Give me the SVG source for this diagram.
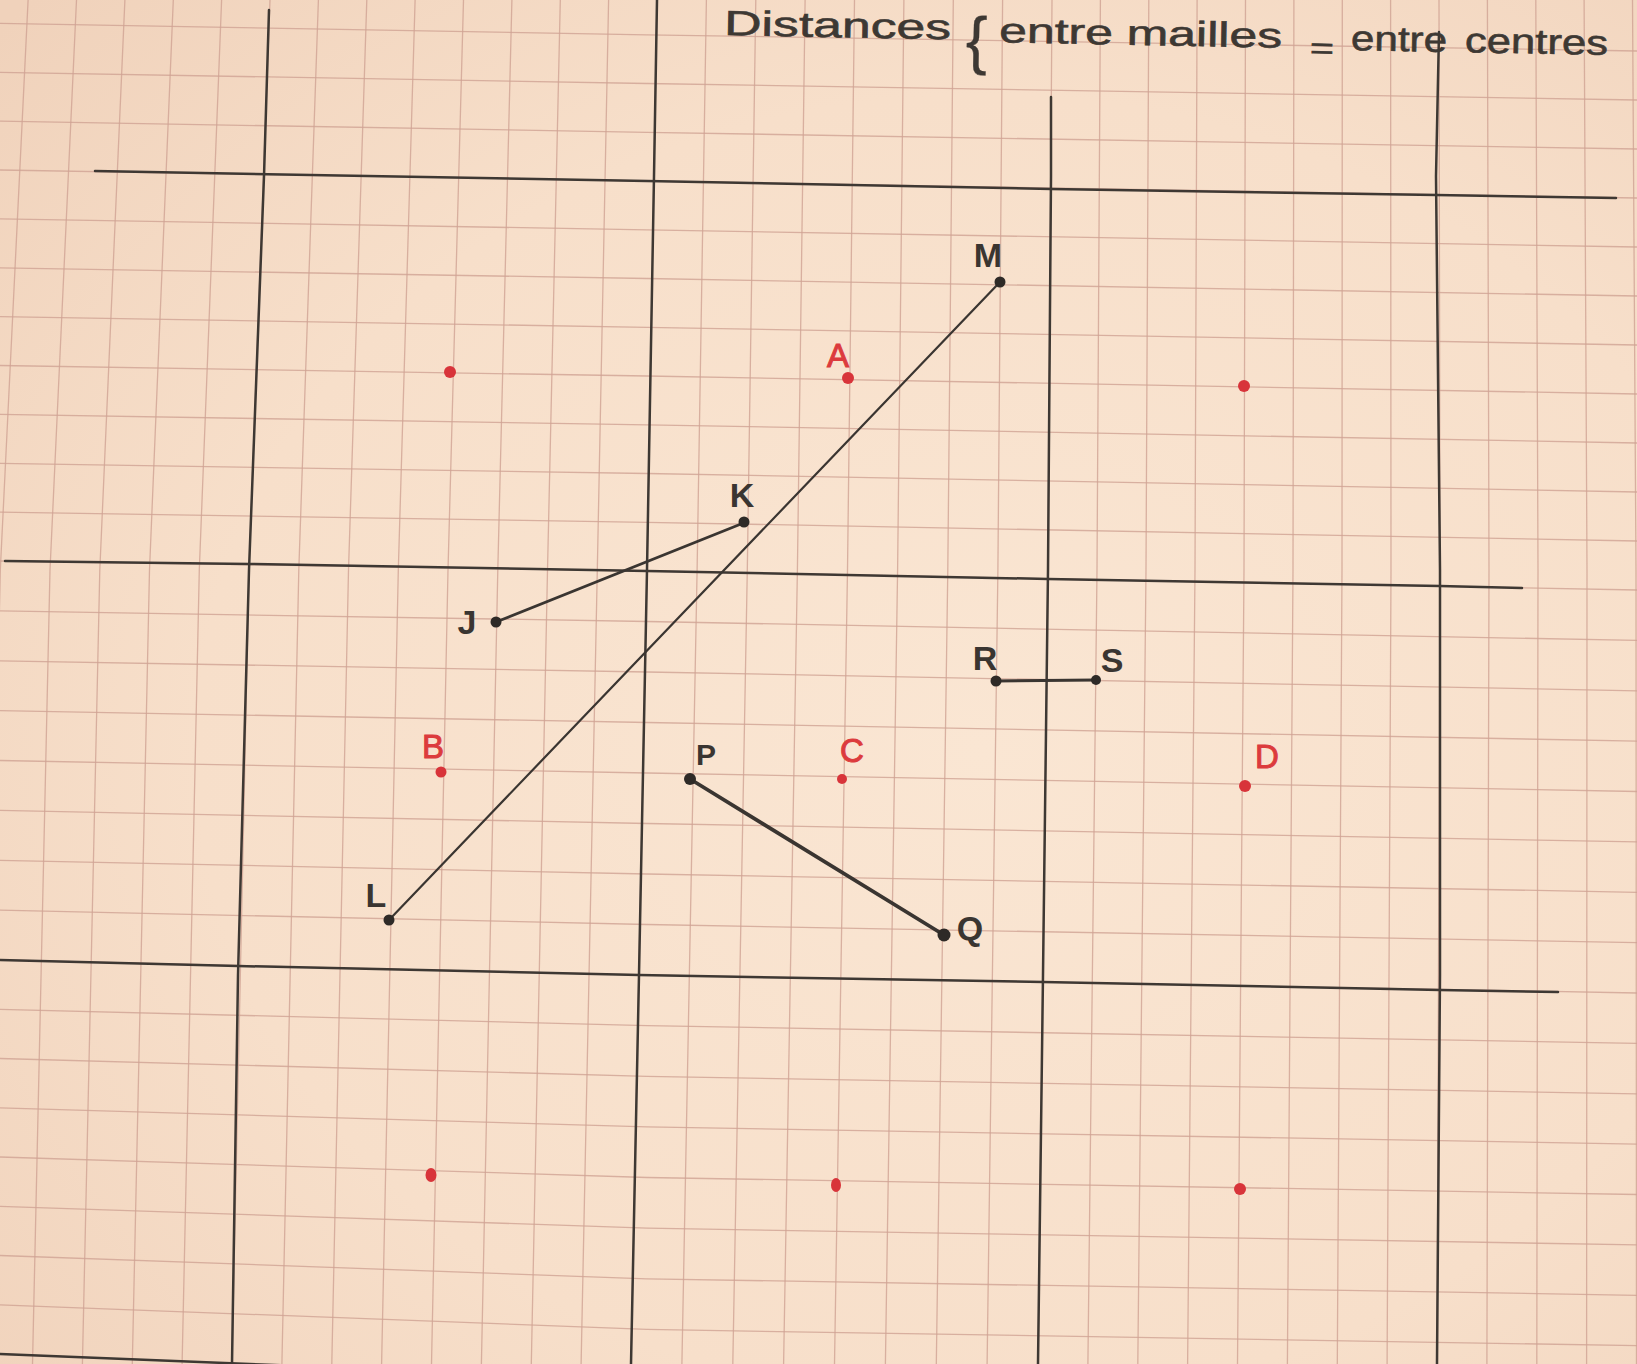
<svg xmlns="http://www.w3.org/2000/svg" width="1637" height="1364" viewBox="0 0 1637 1364">
<defs>
<style>
.minor{stroke:#cfa393;stroke-width:1.3;fill:none;opacity:.8}
.major{stroke:#3e3833;stroke-width:2.5;fill:none;stroke-linecap:round;stroke-linejoin:round}
.seg{stroke:#3a3531;stroke-linecap:round}
.dot{fill:#2e2a27}
.rdot{fill:#d8343a}
.lbl{font-family:"Liberation Sans",Arial,sans-serif;font-size:34px;font-weight:bold;fill:#3a3531;text-anchor:middle}
.rlbl{font-family:"Liberation Sans",Arial,sans-serif;font-size:33px;fill:#dc3b3d;text-anchor:middle;stroke:#dc3b3d;stroke-width:1}
.title{font-family:"Liberation Sans",Arial,sans-serif;font-size:35px;fill:#3d3833;stroke:#3d3833;stroke-width:0.6}
</style>
<radialGradient id="paper" cx="0.6" cy="0.55" r="0.8">
<stop offset="0" stop-color="#fae6d3"/>
<stop offset="0.6" stop-color="#f7dfca"/>
<stop offset="1" stop-color="#f0d2bb"/>
</radialGradient>
</defs>
<rect x="0" y="0" width="1637" height="1364" fill="url(#paper)"/>

<g id="minor-grid">
<polyline class="minor" points="0,23.4 647,34.8 1637,51"/>
<polyline class="minor" points="0,72.3 647,83.5 1637,100"/>
<polyline class="minor" points="0,121.1 647,132.3 1637,149"/>
<polyline class="minor" points="0,170 647,181 1637,198"/>
<polyline class="minor" points="0,218.9 647,229.8 1637,247"/>
<polyline class="minor" points="0,267.8 647,278.5 1637,296"/>
<polyline class="minor" points="0,316.6 647,327.3 1637,345"/>
<polyline class="minor" points="0,365.5 647,376 1637,394"/>
<polyline class="minor" points="0,414.4 647,424.8 1637,443"/>
<polyline class="minor" points="0,463.3 647,473.5 1637,492"/>
<polyline class="minor" points="0,512.1 647,522.3 1637,541"/>
<polyline class="minor" points="0,561 647,571 1637,590"/>
<polyline class="minor" points="0,610.9 647,621.5 1637,640.4"/>
<polyline class="minor" points="0,660.8 647,672 1637,690.8"/>
<polyline class="minor" points="0,710.6 647,722.5 1637,741.1"/>
<polyline class="minor" points="0,760.5 647,773 1637,791.5"/>
<polyline class="minor" points="0,810.4 647,823.5 1637,841.9"/>
<polyline class="minor" points="0,860.3 647,874 1637,892.3"/>
<polyline class="minor" points="0,910.1 647,924.5 1637,942.6"/>
<polyline class="minor" points="0,960 647,975 1637,993"/>
<polyline class="minor" points="0,1009.3 647,1025.6 1637,1043.4"/>
<polyline class="minor" points="0,1058.5 647,1076.3 1637,1093.8"/>
<polyline class="minor" points="0,1107.8 647,1126.9 1637,1144.1"/>
<polyline class="minor" points="0,1157 647,1177.5 1637,1194.5"/>
<polyline class="minor" points="0,1206.3 647,1228.1 1637,1244.9"/>
<polyline class="minor" points="0,1255.5 647,1278.8 1637,1295.3"/>
<polyline class="minor" points="0,1304.8 647,1329.4 1637,1345.6"/>
<polyline class="minor" points="0,1354 647,1380 1637,1396"/>

<polyline class="minor" points="28.1,0 0.3,570 -17.4,1364"/>
<polyline class="minor" points="76.5,0 50,570 32.5,1364"/>
<polyline class="minor" points="124.9,0 99.8,570 82.4,1364"/>
<polyline class="minor" points="173.3,0 149.5,570 132.3,1364"/>
<polyline class="minor" points="221.6,0 199.3,570 182.1,1364"/>
<polyline class="minor" points="270,0 249,570 232,1364"/>
<polyline class="minor" points="318.4,0 298.8,570 281.9,1364"/>
<polyline class="minor" points="366.8,0 348.5,570 331.8,1364"/>
<polyline class="minor" points="415.1,0 398.3,570 381.6,1364"/>
<polyline class="minor" points="463.5,0 448,570 431.5,1364"/>
<polyline class="minor" points="511.9,0 497.8,570 481.4,1364"/>
<polyline class="minor" points="560.3,0 547.5,570 531.3,1364"/>
<polyline class="minor" points="608.6,0 597.3,570 581.1,1364"/>
<polyline class="minor" points="657,0 647,570 631,1364"/>
<polyline class="minor" points="706.4,0 697.1,570 681.9,1364"/>
<polyline class="minor" points="755.8,0 747.3,570 732.8,1364"/>
<polyline class="minor" points="805.1,0 797.4,570 783.6,1364"/>
<polyline class="minor" points="854.5,0 847.5,570 834.5,1364"/>
<polyline class="minor" points="903.9,0 897.6,570 885.4,1364"/>
<polyline class="minor" points="953.3,0 947.8,570 936.3,1364"/>
<polyline class="minor" points="1002.6,0 997.9,570 987.1,1364"/>
<polyline class="minor" points="1052,0 1048,570 1038,1364"/>
<polyline class="minor" points="1100.4,0 1097,570 1087.9,1364"/>
<polyline class="minor" points="1148.8,0 1146,570 1137.8,1364"/>
<polyline class="minor" points="1197.1,0 1195,570 1187.6,1364"/>
<polyline class="minor" points="1245.5,0 1244,570 1237.5,1364"/>
<polyline class="minor" points="1293.9,0 1293,570 1287.4,1364"/>
<polyline class="minor" points="1342.3,0 1342,570 1337.3,1364"/>
<polyline class="minor" points="1390.6,0 1391,570 1387.1,1364"/>
<polyline class="minor" points="1439,0 1440,570 1437,1364"/>
<polyline class="minor" points="1487.4,0 1489,570 1486.9,1364"/>
<polyline class="minor" points="1535.8,0 1538,570 1536.8,1364"/>
<polyline class="minor" points="1584.1,0 1587,570 1586.6,1364"/>
<polyline class="minor" points="1632.5,0 1636,570 1636.5,1364"/>
</g>

<g id="major-grid">
<polyline class="major" points="269,10 264,176 249,570 238,975 232,1364"/>
<polyline class="major" points="657,0 654,176 647,570 639,975 631,1364"/>
<polyline class="major" points="1051,97 1051,176 1048,570 1043,975 1038,1364"/>
<polyline class="major" points="1439,32 1436,176 1440,570 1440,975 1437,1364"/>
<polyline class="major" points="95,171 647,181 1051,189 1436,195 1616,198"/>
<polyline class="major" points="5,561 249,564 647,571 1048,579 1440,586 1522,588"/>
<polyline class="major" points="0,960 238,966 639,975 1043,982 1440,990 1558,992"/>
<polyline class="major" points="0,1354 300,1366"/>
</g>

<g id="title" transform="rotate(1.1 724 35)">
<text class="title" x="724" y="35" textLength="227" lengthAdjust="spacingAndGlyphs">Distances</text>
<text class="title" x="966" y="57" style="font-size:64px;stroke-width:0.3">{</text>
<text class="title" x="999" y="37" textLength="283" lengthAdjust="spacingAndGlyphs">entre mailles</text>
<text class="title" x="1310" y="47" textLength="24" lengthAdjust="spacingAndGlyphs" style="font-size:30px">=</text>
<text class="title" x="1351" y="38" textLength="96" lengthAdjust="spacingAndGlyphs">entre</text>
<text class="title" x="1465" y="38" textLength="143" lengthAdjust="spacingAndGlyphs">centres</text>
</g>

<g id="connectors">
<line class="seg" x1="496" y1="622" x2="746" y2="522" stroke-width="2.8"/>
<line class="seg" x1="389" y1="920" x2="1000" y2="282" stroke-width="2.2"/>
<line class="seg" x1="690" y1="779" x2="944" y2="935" stroke-width="3.8"/>
<line class="seg" x1="996" y1="681" x2="1096" y2="680" stroke-width="3"/>
</g>

<g id="node-M"><circle class="dot" cx="1000" cy="282" r="5.5"/><text class="lbl" x="988" y="267">M</text></g>
<g id="node-K"><circle class="dot" cx="744" cy="522" r="5.5"/><text class="lbl" x="742" y="507">K</text></g>
<g id="node-J"><circle class="dot" cx="496" cy="622" r="5.5"/><text class="lbl" x="467" y="634">J</text></g>
<g id="node-L"><circle class="dot" cx="389" cy="920" r="5.5"/><text class="lbl" x="376" y="907">L</text></g>
<g id="node-P"><circle class="dot" cx="690" cy="779" r="6"/><text class="lbl" x="706" y="765" style="font-size:30px">P</text></g>
<g id="node-Q"><circle class="dot" cx="944" cy="935" r="6.5"/><text class="lbl" x="970" y="940">Q</text></g>
<g id="node-R"><circle class="dot" cx="996" cy="681" r="5.5"/><text class="lbl" x="985" y="670">R</text></g>
<g id="node-S"><circle class="dot" cx="1096" cy="680" r="5"/><text class="lbl" x="1112" y="672">S</text></g>

<g id="centre-A"><circle class="rdot" cx="848" cy="378" r="6"/><text class="rlbl" x="838" y="367">A</text></g>
<g id="centre-B"><circle class="rdot" cx="441" cy="772" r="5.5"/><text class="rlbl" x="433" y="758">B</text></g>
<g id="centre-C"><circle class="rdot" cx="842" cy="779" r="5"/><text class="rlbl" x="852" y="762">C</text></g>
<g id="centre-D"><circle class="rdot" cx="1245" cy="786" r="6"/><text class="rlbl" x="1267" y="768">D</text></g>
<g id="centre-1"><circle class="rdot" cx="450" cy="372" r="6"/></g>
<g id="centre-2"><circle class="rdot" cx="1244" cy="386" r="6"/></g>
<g id="centre-3"><ellipse class="rdot" cx="431" cy="1175" rx="5.5" ry="7"/></g>
<g id="centre-4"><ellipse class="rdot" cx="836" cy="1185" rx="5" ry="7"/></g>
<g id="centre-5"><circle class="rdot" cx="1240" cy="1189" r="6"/></g>
</svg>
